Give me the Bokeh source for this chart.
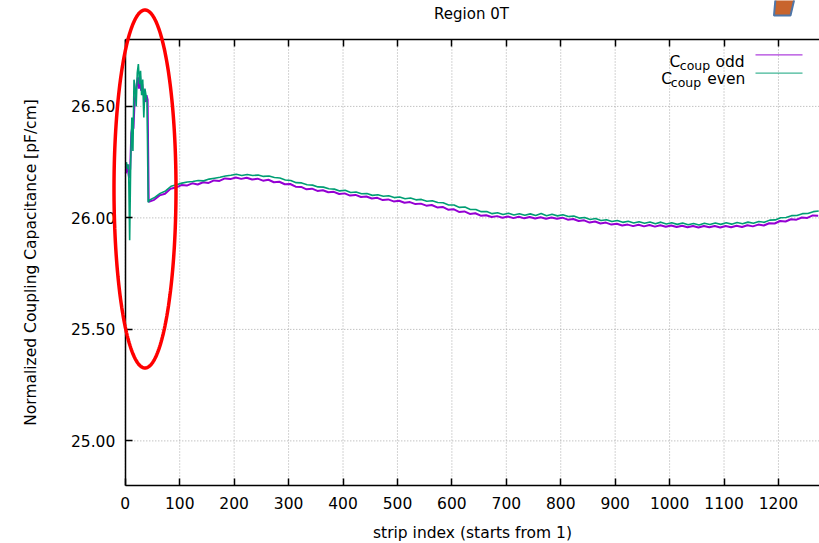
import numpy as np
from bokeh.plotting import figure
from bokeh.models import (FixedTicker, LinearAxis, Label, PolyAnnotation,
                          Range1d, PrintfTickFormatter)
from bokeh.embed import file_html
from bokeh.resources import INLINE

FONT = "DejaVu Sans"

# ---------------- data ----------------
x_ticks = [0, 100, 200, 300, 400, 500, 600, 700, 800, 900, 1000, 1100, 1200]
y_ticks = [25.0, 25.5, 26.0, 26.5]

# first strips (spike region), odd and even strips
spike_odd_x = [1, 3, 5, 7, 9, 11, 13, 15, 17, 19, 21, 23, 25, 27, 29, 31, 33, 35, 37, 39, 41]
spike_odd_y = [26.20, 26.24, 26.21, 26.18, 26.22, 26.38, 26.41, 26.40, 26.52, 26.56, 26.60,
               26.63, 26.58, 26.64, 26.57, 26.60, 26.56, 26.54, 26.52, 26.55, 26.53]
spike_even_x = [2, 4, 6, 8, 10, 12, 14, 16, 18, 20, 22, 24, 26, 28, 30, 32, 34, 36, 38, 40, 42]
spike_even_y = [26.25, 26.22, 26.24, 25.90, 26.26, 26.45, 26.30, 26.62, 26.58, 26.50, 26.65,
                26.69, 26.60, 26.66, 26.55, 26.62, 26.45, 26.58, 26.55, 26.52, 26.07]

# rest of the sensor (sampled every 10 strips)
main_odd_x = list(range(43, 1274, 10))
main_odd_y = [
    26.072, 26.081, 26.101, 26.108, 26.131, 26.136, 26.147, 26.145, 26.155, 26.150,
    26.160, 26.157, 26.168, 26.166, 26.177, 26.174, 26.181, 26.175, 26.180, 26.172,
    26.176, 26.167, 26.171, 26.160, 26.162, 26.151, 26.152, 26.140, 26.139, 26.128,
    26.131, 26.121, 26.124, 26.115, 26.117, 26.107, 26.110, 26.100, 26.103, 26.094,
    26.096, 26.087, 26.090, 26.080, 26.083, 26.074, 26.077, 26.068, 26.071, 26.062,
    26.064, 26.055, 26.058, 26.047, 26.049, 26.037, 26.039, 26.027, 26.029, 26.018,
    26.021, 26.010, 26.012, 26.004, 26.008, 26.001, 26.006, 25.999, 26.005, 25.998,
    26.004, 25.997, 26.003, 25.996, 26.002, 25.996, 26.001, 25.992, 25.995, 25.986,
    25.989, 25.979, 25.984, 25.975, 25.979, 25.970, 25.974, 25.966, 25.970, 25.963,
    25.969, 25.962, 25.968, 25.961, 25.967, 25.960, 25.966, 25.959, 25.965, 25.958,
    25.964, 25.957, 25.964, 25.958, 25.964, 25.957, 25.964, 25.958, 25.965, 25.959,
    25.967, 25.962, 25.970, 25.966, 25.976, 25.975, 25.986, 25.984, 25.994, 25.992,
    26.002, 26.000, 26.011, 26.010]
main_even_x = list(range(44, 1275, 10))
main_even_y = [
    26.079, 26.092, 26.110, 26.121, 26.142, 26.149, 26.156, 26.161, 26.163, 26.168,
    26.166, 26.174, 26.178, 26.182, 26.188, 26.191, 26.196, 26.190, 26.195, 26.190,
    26.192, 26.186, 26.188, 26.181, 26.179, 26.170, 26.168, 26.158, 26.157, 26.149,
    26.147, 26.139, 26.138, 26.131, 26.129, 26.121, 26.124, 26.114, 26.116, 26.108,
    26.109, 26.101, 26.104, 26.097, 26.099, 26.091, 26.094, 26.086, 26.089, 26.081,
    26.083, 26.075, 26.077, 26.069, 26.068, 26.058, 26.058, 26.047, 26.049, 26.038,
    26.038, 26.028, 26.029, 26.019, 26.023, 26.015, 26.021, 26.013, 26.019, 26.012,
    26.018, 26.011, 26.020, 26.010, 26.016, 26.009, 26.014, 26.006, 26.008, 25.999,
    26.002, 25.993, 25.997, 25.988, 25.992, 25.984, 25.988, 25.980, 25.985, 25.977,
    25.983, 25.976, 25.982, 25.974, 25.981, 25.973, 25.978, 25.971, 25.977, 25.969,
    25.975, 25.968, 25.976, 25.970, 25.977, 25.971, 25.978, 25.972, 25.979, 25.974,
    25.981, 25.976, 25.984, 25.980, 25.990, 25.991, 26.001, 26.002, 26.010, 26.011,
    26.019, 26.020, 26.028, 26.031]

odd_x = spike_odd_x + main_odd_x
odd_y = spike_odd_y + main_odd_y
even_x = spike_even_x + main_even_x
even_y = spike_even_y + main_even_y

series_names = ["odd", "even"]
series_colors = ["#9400d3", "#009e73"]

# ---------------- layout (canvas pixels) ----------------
W, H = 819, 543
PLOT_L, PLOT_T, PLOT_B = 124.8, 39.0, 485.0     # plot-area edges in canvas px
PX_PER_STRIP = 0.5443
XA, YA_BOT, YA_TOP = 0.0, 24.8, 26.8             # axis limits
PX_PER_UNIT = (PLOT_B - PLOT_T) / (YA_TOP - YA_BOT)


def sx(px):
    return XA + (px - PLOT_L) / PX_PER_STRIP


def sy(py):
    return YA_TOP - (py - PLOT_T) / PX_PER_UNIT


X_END = sx(W)

p = figure(width=W, height=H, x_range=Range1d(sx(0), sx(W)), y_range=Range1d(sy(H), sy(0)),
           output_backend="svg", toolbar_location=None,
           min_border_left=0, min_border_right=0, min_border_top=0, min_border_bottom=0)
p.outline_line_color = None
p.background_fill_color = "white"
p.border_fill_color = "white"
p.grid.visible = False

bottom_axis = p.below[0]
left_axis = p.left[0]
top_axis = LinearAxis(ticker=FixedTicker(ticks=x_ticks))
p.add_layout(top_axis, "above")

for ax in [bottom_axis, left_axis, top_axis]:
    ax.axis_line_color = "black"
    ax.axis_line_width = 1.5
    ax.major_tick_in = 7
    ax.major_tick_out = 0
    ax.major_tick_line_color = "black"
    ax.major_tick_line_width = 1.5
    ax.minor_tick_line_color = None
    ax.major_label_text_font = FONT
    ax.major_label_text_font_size = "15.5px"
    ax.major_label_text_color = "black"
    ax.axis_label_text_font = FONT
    ax.axis_label_text_font_size = "15.5px"
    ax.axis_label_text_font_style = "normal"
    ax.axis_label_text_color = "black"

bottom_axis.ticker = FixedTicker(ticks=x_ticks)
bottom_axis.fixed_location = YA_BOT
bottom_axis.bounds = (XA, X_END)
bottom_axis.axis_label = "strip index (starts from 1)"
bottom_axis.major_label_standoff = 11
bottom_axis.axis_label_standoff = 12

top_axis.fixed_location = YA_TOP
top_axis.bounds = (XA, X_END)
top_axis.major_label_text_color = None

left_axis.ticker = FixedTicker(ticks=y_ticks)
left_axis.formatter = PrintfTickFormatter(format="%.2f")
left_axis.fixed_location = XA
left_axis.bounds = (YA_BOT, YA_TOP)
left_axis.axis_label = "Normalized Coupling Capacitance [pF/cm]"
left_axis.major_label_standoff = 10
left_axis.axis_label_standoff = 28

# dotted grid at the tick positions, limited to the plot area
GRID = dict(line_color="#a8a8a8", line_dash="1 2", line_width=1)
p.segment(x0=x_ticks, y0=[YA_BOT] * len(x_ticks), x1=x_ticks, y1=[YA_TOP] * len(x_ticks),
          **GRID)
p.segment(x0=[XA] * len(y_ticks), y0=y_ticks, x1=[X_END] * len(y_ticks), y1=y_ticks, **GRID)

# series
p.line(odd_x, odd_y, line_color=series_colors[0], line_width=2)
p.line(even_x, even_y, line_color=series_colors[1], line_width=1.6)

# title
p.add_layout(Label(x=sx(471), y=sy(13.5), text="Region 0T", text_font=FONT,
                   text_font_size="15px", text_align="center", text_baseline="middle",
                   text_color="black"))

# gnuplot-style key (top right)
rows = [(61.7, 669.0, 679.3, 715.0, 54.3), (78.3, 660.7, 670.3, 706.7, 72.7)]
for (name, col, (base, cx_, subx, wx, ly)) in zip(series_names, series_colors, rows):
    p.add_layout(Label(x=sx(cx_), y=sy(base), text="C", text_font=FONT, text_color="black",
                       text_font_size="15.5px", text_baseline="alphabetic", text_align="left"))
    p.add_layout(Label(x=sx(subx), y=sy(base + 3.3), text="coup", text_font=FONT,
                       text_color="black", text_font_size="12.5px",
                       text_baseline="alphabetic", text_align="left"))
    p.add_layout(Label(x=sx(wx), y=sy(base), text=name, text_font=FONT, text_color="black",
                       text_font_size="15.5px", text_baseline="alphabetic", text_align="left"))
    p.line([sx(755), sx(802)], [sy(ly), sy(ly)], line_color=col, line_width=1.2,
           line_alpha=0.75)

# red ellipse highlighting the first strips
t = np.linspace(0, 2 * np.pi, 240)
ecx, ecy = sx(144.5), sy(188.5)
ea = sx(144.5 + 31) - sx(144.5)
eb = sy(188.5 - 179) - sy(188.5)
p.add_layout(PolyAnnotation(xs=list(ecx + ea * np.cos(t)), ys=list(ecy + eb * np.sin(t)),
                            fill_alpha=0, line_color="#ff0000", line_width=3.5,
                            line_alpha=1.0))

# small orange shape at top right (cropped in the original)
p.add_layout(PolyAnnotation(xs=[sx(775), sx(773.5), sx(790), sx(794)],
                            ys=[sy(-2), sy(15), sy(15), sy(-2)],
                            fill_color="#c8642d", fill_alpha=1, line_color="#4f76a8",
                            line_width=2, line_alpha=1))

open("out.html", "w").write(file_html(p, INLINE))
